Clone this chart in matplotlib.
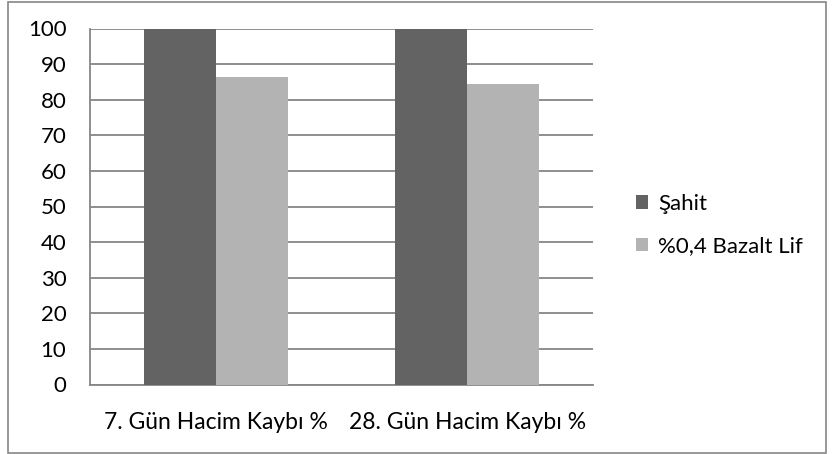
import matplotlib
matplotlib.use("Agg")
import matplotlib.pyplot as plt
from matplotlib.patches import Rectangle
import numpy as np

categories = ["7. Gün Hacim Kaybı %", "28. Gün Hacim Kaybı %"]
series_names = ["Şahit", "%0,4 Bazalt Lif"]
sahit = [100, 100]
bazalt = [86.4, 84.5]
colors = ["#636363", "#b3b3b3"]

plt.rcParams['font.family'] = ['Lato', 'DejaVu Sans']

fig = plt.figure(figsize=(8.32, 4.54), dpi=100)
ax = fig.add_axes([90/832, 1-384.5/454, (593-90)/832, (384.5-28.5)/454])

x = np.arange(len(categories))
w = 0.286
ax.bar(x - w/2, sahit, w, color=colors[0], label=series_names[0], zorder=3)
ax.bar(x + w/2, bazalt, w, color=colors[1], label=series_names[1], zorder=3)

ax.set_xlim(-0.5, 1.5)
ax.set_ylim(0, 100)
ax.set_yticks(range(0, 101, 10))
ax.yaxis.grid(True, color="#868686", linewidth=1.3, zorder=0)
ax.set_axisbelow(True)
ax.set_xticks(x)
ax.set_xticklabels(categories, fontsize=16.5)
ax.tick_params(axis='x', length=0, pad=20)
ax.tick_params(axis='y', length=0, pad=17, labelsize=16)
for s in ["top", "right"]:
    ax.spines[s].set_visible(False)
for s in ["left", "bottom"]:
    ax.spines[s].set_color("#868686")
    ax.spines[s].set_linewidth(1.3)

leg = fig.legend(loc="center left", bbox_to_anchor=(616/832, 1-225/454), frameon=False,
                 fontsize=16, handlelength=0.55, handleheight=0.55, labelspacing=1.0,
                 handletextpad=0.45)

fig.patches.append(Rectangle((8/832, 1/454), (826-8)/832, (452-1)/454, transform=fig.transFigure,
                             fill=False, edgecolor="#868686", linewidth=1.2))

fig.savefig("out.png", dpi=100)
